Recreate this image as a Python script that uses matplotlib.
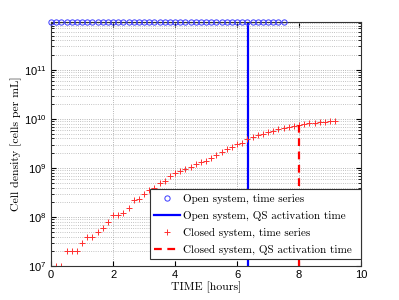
import numpy as np
import matplotlib
matplotlib.use("Agg")
import matplotlib.pyplot as plt
from matplotlib.ticker import LogLocator, NullFormatter

# open system: density stays at carrying capacity, sampled every 10 min
open_t = np.arange(0, 46) / 6.0
open_density = [9.5e11] * 46
open_qs_time = 6.35

# closed system: sampled every 10 min
closed_t = np.arange(0, 56) / 6.0
closed_density = [
    1e7, 1e7, 1e7, 2e7, 2e7, 2e7, 3e7, 4e7, 4e7, 5e7,
    6e7, 8e7, 1.1e8, 1.1e8, 1.2e8, 1.5e8, 2.2e8, 2.3e8, 3e8, 3.5e8,
    4.0e8, 4.9e8, 5.4e8, 6.9e8, 7.8e8, 8.7e8, 9.7e8, 1.07e9, 1.2e9, 1.3e9,
    1.4e9, 1.6e9, 1.8e9, 2.1e9, 2.4e9, 2.7e9, 3.1e9, 3.3e9, 3.9e9, 4.2e9,
    4.6e9, 4.9e9, 5.3e9, 5.7e9, 6.2e9, 6.5e9, 6.9e9, 7.2e9, 7.4e9, 7.8e9,
    8.1e9, 8.4e9, 8.7e9, 8.8e9, 8.9e9, 9.1e9,
]
closed_qs_time = 8.0
closed_qs_density = 7.4e9

y_min, y_max = 1e7, 9.5e11

label_font = "cmr10"
plt.rcParams["font.family"] = ["Liberation Sans", "DejaVu Sans"]

fig = plt.figure(figsize=(3.99, 3.0), dpi=100)
ax = fig.add_axes([0.128, 0.113, 0.777, 0.814])

ax.semilogy(open_t, open_density, "o", mfc="none", mec="#3838ff", ms=3.8, mew=0.7,
            label="Open system, time series", clip_on=False, zorder=4)
ax.plot([open_qs_time, open_qs_time], [y_min, y_max], "-", color="#0000ff", lw=1.6,
        label="Open system, QS activation time")
ax.plot(closed_t, closed_density, "+", color="#ff3030", ms=5, mew=0.7,
        label="Closed system, time series")
ax.plot([closed_qs_time, closed_qs_time], [y_min, closed_qs_density], "--", color="#ff0000",
        lw=1.6, dashes=(3.5, 2.5), label="Closed system, QS activation time")

ax.set_xlim(0, 10)
ax.set_ylim(y_min, y_max)
ax.set_xticks([0, 2, 4, 6, 8, 10])
ax.yaxis.set_major_locator(LogLocator(base=10, numticks=10))
ax.yaxis.set_minor_locator(LogLocator(base=10, subs=np.arange(2, 10), numticks=20))
ax.yaxis.set_minor_formatter(NullFormatter())

ax.grid(True, which="major", linestyle=":", color="#a0a0a0", lw=0.6)
ax.grid(True, which="minor", axis="y", linestyle=":", color="#b0b0b0", lw=0.6)
ax.set_axisbelow(True)

ax.tick_params(which="both", direction="in", top=True, right=True, labelsize=8, pad=3)
ax.tick_params(which="major", length=3.5)
ax.tick_params(which="minor", length=2)
for s in ax.spines.values():
    s.set_linewidth(0.8)
    s.set_color("#333333")

ax.set_xlabel("TIME [hours]", fontfamily=label_font, fontsize=8.5, labelpad=1)
ax.set_ylabel("Cell density [cells per mL]", fontfamily=label_font, fontsize=8.5)
ax.yaxis.set_label_coords(-0.094, 0.5)

leg = ax.legend(loc="lower left", bbox_to_anchor=(0.319, 0.028, 0.681, 0.27), mode="expand",
                prop={"family": label_font, "size": 8}, handlelength=2.3, handletextpad=0.3,
                borderpad=0.4, labelspacing=0.62, fancybox=False, framealpha=1,
                edgecolor="#333333", borderaxespad=0)
leg.get_frame().set_linewidth(0.8)

fig.savefig("out.png", dpi=100)
